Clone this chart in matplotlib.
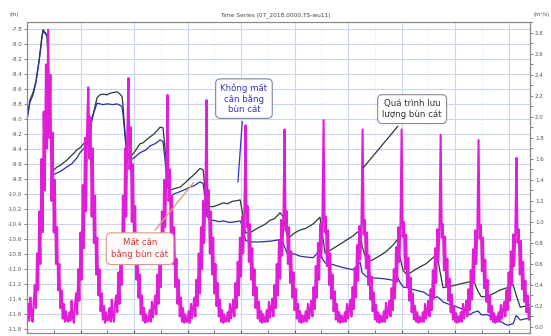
import numpy as np
import matplotlib
matplotlib.use("Agg")
import matplotlib.pyplot as plt
from matplotlib.ticker import MultipleLocator, FormatStrFormatter

# ---- bed level (m), two stations, time in hours ----
black_t = [0, 1.3, 2.7, 4.0, 5.5, 6.7, 7.2, 8.1, 9.0, 9.6, 10.3, 11.2,
           12, 13.5, 15, 16.5, 17.9, 19.5, 21, 22.4, 24, 26.0, 26.9, 28.3, 29.6, 31.4,
           32.7, 34.1, 35.9, 37, 38.6, 40.4, 41.7, 42.6, 43.1, 44.0, 44.9, 46.2,
           48, 50.7, 52, 53.5, 55.2, 57, 58.5, 59.7, 61.0, 61.9, 62.8, 64.2,
           66, 68.6, 71, 73.1, 75, 77.6, 79.0, 79.9, 80.7, 83.4, 85.5, 87.9,
           90, 92, 94, 95.6, 96.9, 98, 100.0, 102, 104.5, 107, 109.0, 111, 113.5,
           114.8, 116.6, 118, 120, 122.5, 125, 128.3, 131.4, 132.3, 133.7, 136,
           140.4, 143, 146.2, 149.4, 150.3, 152.5, 155, 158.4, 161, 164.2, 166.0,
           167.3, 168.7, 170.5, 173, 176.3, 179, 182.1, 183.9, 185.3, 186.6, 190,
           194.2, 198.7, 200.1, 202.3, 203.7, 206.4, 209, 212.2, 215.3, 218.0,
           219.4, 221.2, 224.3, 225.6]
black_z = [-9.01, -8.75, -8.65, -8.50, -8.20, -7.90, -7.81, -7.85, -7.88, -8.30, -9.00, -9.70,
           -9.68, -9.64, -9.62, -9.58, -9.55, -9.50, -9.46, -9.41, -9.38, -9.31, -9.28, -9.09, -8.95, -8.72,
           -8.68, -8.67, -8.68, -8.66, -8.65, -8.64, -8.67, -8.70, -8.84, -9.20, -9.45, -9.51,
           -9.45, -9.33, -9.32, -9.28, -9.24, -9.20, -9.15, -9.11, -9.12, -9.40, -9.64, -9.95,
           -9.93, -9.91, -9.85, -9.79, -9.74, -9.66, -9.68, -9.95, -10.17, -10.17, -10.15, -10.12,
           -10.13, -10.10, -10.09, -10.08, -10.30, -10.52, -10.52, -10.48, -10.44, -10.40, -10.35, -10.33, -10.25,
           -10.30, -10.55, -10.57, -10.52, -10.48, -10.46, -10.40, -10.31, -10.50, -10.79, -10.75,
           -10.67, -10.62, -10.56, -10.48, -10.70, -10.91, -10.88, -10.82, -10.77, -10.68, -10.61,
           -10.85, -11.02, -11.08, -11.03, -10.97, -10.93, -10.85, -10.81, -11.05, -11.25, -11.23,
           -11.20, -11.17, -11.15, -11.30, -11.37, -11.37, -11.33, -11.28, -11.25, -11.21,
           -11.35, -11.51, -11.49, -11.48]

blue_t = [0, 1.3, 2.7, 4.0, 5.5, 6.7, 7.2, 8.1, 9.0, 9.6, 10.3, 11.2,
          12, 13.5, 15, 17.9, 20, 22.4, 23.8, 26.0, 26.9, 28.3, 29.6, 31.4,
          32.7, 34.1, 36, 38.6, 40.4, 41.7, 42.6, 43.1, 44.0, 44.9, 46.2,
          48, 50.7, 53, 55.2, 57.5, 59.7, 61.0, 61.9, 62.8, 64.2,
          66, 68.6, 71, 73.1, 75, 77.6, 79.0, 79.9, 80.7, 82.1, 83.4, 86, 88,
          91, 93.5, 95.6, 96.9, 98, 100, 104.5, 109, 113.5, 114.8, 116.6, 120,
          122.5, 125, 128.3, 131.4, 132.3, 133.7, 137, 140.4, 143, 146.2, 149.4,
          150.3, 152.5, 156, 160, 164.2, 166.0, 167.3, 168.7, 170.5, 174, 178,
          182.1, 183.9, 185.3, 186.6, 190, 194.2, 198.7, 200.1, 202.3, 203.7,
          206.4, 210, 215.3, 218.0, 219.4, 221.2, 224.3, 225.6]
blue_z = [-9.01, -8.78, -8.68, -8.52, -8.22, -7.92, -7.83, -7.86, -7.90, -8.40, -9.10, -9.75,
          -9.74, -9.72, -9.70, -9.64, -9.60, -9.52, -9.45, -9.38, -9.32, -9.15, -8.95, -8.79,
          -8.80, -8.81, -8.80, -8.81, -8.80, -8.82, -8.84, -8.95, -9.25, -9.50, -9.55,
          -9.52, -9.45, -9.42, -9.36, -9.33, -9.28, -9.30, -9.55, -9.85, -10.04,
          -10.00, -9.97, -9.94, -9.91, -9.89, -9.84, -9.86, -10.08, -10.30, -10.35, -10.35, -10.37, -10.36,
          -10.38, -10.37, -10.36, -10.45, -10.62, -10.64, -10.64, -10.63, -10.61, -10.65, -10.79, -10.80,
          -10.83, -10.84, -10.85, -10.75, -10.85, -10.92, -10.94, -10.97, -10.99, -11.01, -10.91,
          -11.05, -11.11, -11.12, -11.13, -11.15, -11.10, -11.18, -11.24, -11.25, -11.28, -11.31,
          -11.39, -11.37, -11.40, -11.44, -11.48, -11.52, -11.61, -11.58, -11.56, -11.61,
          -11.61, -11.66, -11.75, -11.73, -11.62, -11.68, -11.66, -11.66]

# ---- sediment discharge (m3/s), half-hourly, one row per tide ----
q_start = [0.0, 18.5, 36.5, 54.5, 72.0, 89.5, 107.0, 124.5, 142.0, 159.5, 177.0, 194.5, 211.5]
q_rows = [
    [0.10, 0.22, 0.06, 0.28, 0.12, 0.05, 0.24, 0.40, 0.18, 0.70, 0.35, 1.10, 0.60, 1.60, 0.90, 2.05, 1.30, 2.50, 1.70,
     2.83, 1.80, 2.40, 1.20, 1.85, 0.90, 1.40, 0.60, 0.95, 0.35, 0.60, 0.18, 0.35, 0.08, 0.22, 0.05, 0.15, 0.06],
    [0.05, 0.14, 0.06, 0.25, 0.10, 0.04, 0.20, 0.32, 0.12, 0.55, 0.25, 0.90, 0.45, 1.35, 0.75, 1.80, 1.10, 1.95,
     2.28, 1.60, 2.00, 1.05, 1.70, 0.80, 1.25, 0.50, 0.85, 0.30, 0.55, 0.15, 0.32, 0.07, 0.20, 0.04, 0.14, 0.06],
    [0.08, 0.18, 0.05, 0.26, 0.10, 0.05, 0.22, 0.30, 0.14, 0.52, 0.22, 0.85, 0.40, 1.25, 0.70, 1.70, 1.05, 1.85,
     2.37, 1.50, 1.90, 1.00, 1.55, 0.75, 1.15, 0.45, 0.80, 0.28, 0.50, 0.12, 0.30, 0.06, 0.18, 0.04, 0.12, 0.05],
    [0.06, 0.16, 0.05, 0.24, 0.09, 0.20, 0.30, 0.12, 0.50, 0.22, 0.80, 0.38, 1.10, 0.60, 1.40, 0.95, 1.45,
     2.21, 1.20, 1.50, 0.80, 1.25, 0.60, 0.95, 0.38, 0.65, 0.22, 0.45, 0.10, 0.28, 0.05, 0.18, 0.04, 0.12, 0.05],
    [0.05, 0.15, 0.04, 0.22, 0.08, 0.18, 0.28, 0.10, 0.45, 0.20, 0.70, 0.32, 0.95, 0.55, 1.20, 0.80, 1.25,
     2.16, 1.05, 1.30, 0.70, 1.10, 0.50, 0.85, 0.32, 0.60, 0.20, 0.42, 0.10, 0.26, 0.05, 0.16, 0.04, 0.12, 0.05],
    [0.06, 0.14, 0.05, 0.22, 0.08, 0.16, 0.26, 0.10, 0.42, 0.18, 0.62, 0.30, 0.85, 0.48, 1.05, 0.70, 1.10,
     1.92, 0.95, 1.15, 0.62, 0.98, 0.45, 0.75, 0.30, 0.55, 0.18, 0.38, 0.08, 0.24, 0.05, 0.15, 0.04, 0.12, 0.05],
    [0.05, 0.16, 0.05, 0.24, 0.09, 0.17, 0.27, 0.10, 0.40, 0.18, 0.60, 0.30, 0.82, 0.46, 1.02, 0.68, 1.05,
     1.88, 0.92, 1.10, 0.60, 0.95, 0.42, 0.72, 0.28, 0.52, 0.16, 0.36, 0.08, 0.22, 0.05, 0.15, 0.04, 0.11, 0.05],
    [0.06, 0.15, 0.05, 0.22, 0.08, 0.16, 0.25, 0.10, 0.38, 0.17, 0.58, 0.28, 0.80, 0.45, 0.98, 0.66, 1.02,
     1.97, 0.90, 1.05, 0.58, 0.92, 0.40, 0.70, 0.27, 0.50, 0.15, 0.34, 0.07, 0.22, 0.05, 0.14, 0.04, 0.11, 0.05],
    [0.05, 0.14, 0.05, 0.22, 0.08, 0.17, 0.26, 0.10, 0.38, 0.17, 0.56, 0.28, 0.78, 0.44, 0.96, 0.64, 1.00,
     1.88, 0.88, 1.02, 0.56, 0.90, 0.40, 0.68, 0.26, 0.48, 0.15, 0.33, 0.07, 0.21, 0.05, 0.14, 0.04, 0.11, 0.05],
    [0.05, 0.15, 0.05, 0.23, 0.08, 0.16, 0.25, 0.10, 0.37, 0.16, 0.55, 0.27, 0.76, 0.43, 0.95, 0.62, 0.98,
     1.88, 0.86, 1.00, 0.55, 0.88, 0.38, 0.66, 0.25, 0.47, 0.14, 0.32, 0.07, 0.20, 0.05, 0.14, 0.04, 0.10, 0.05],
    [0.05, 0.14, 0.05, 0.22, 0.08, 0.16, 0.25, 0.10, 0.36, 0.16, 0.54, 0.27, 0.75, 0.42, 0.93, 0.62, 0.97,
     1.83, 0.85, 0.98, 0.54, 0.86, 0.38, 0.65, 0.25, 0.46, 0.14, 0.31, 0.07, 0.20, 0.05, 0.13, 0.04, 0.10, 0.05],
    [0.14, 0.05, 0.22, 0.08, 0.16, 0.25, 0.10, 0.36, 0.16, 0.54, 0.26, 0.74, 0.42, 0.92, 0.60, 0.96,
     1.78, 0.84, 0.97, 0.53, 0.85, 0.37, 0.64, 0.24, 0.45, 0.14, 0.30, 0.07, 0.20, 0.05, 0.13, 0.04, 0.10, 0.05],
    [0.14, 0.05, 0.21, 0.08, 0.16, 0.24, 0.10, 0.35, 0.16, 0.52, 0.25, 0.72, 0.40, 0.88, 0.58, 0.92,
     1.61, 0.80, 0.93, 0.50, 0.82, 0.36, 0.62, 0.24, 0.44, 0.14, 0.30, 0.07, 0.18, 0.05],
]

q_t = []
q_v = []
for t0, row in zip(q_start, q_rows):
    for i, v in enumerate(row):
        q_t.append(t0 + 0.5 * i)
        q_v.append(v)

left_ticks = np.arange(-11.8, -7.79, 0.2)
right_ticks = np.arange(0.0, 2.81, 0.2)

fig = plt.figure(figsize=(5.51, 3.36), dpi=100)
ax = fig.add_axes([0.049, 0.009, 0.913, 0.926])
ax2 = ax.twinx()

ax.set_xlim(0, 225.6)
ax.set_ylim(-11.853, -7.707)
ax2.set_ylim(-0.057, 2.905)

# grid
ax.xaxis.set_major_locator(MultipleLocator(24))
ax.xaxis.set_minor_locator(MultipleLocator(12))
ax.set_yticks(left_ticks)
ax.yaxis.set_major_formatter(FormatStrFormatter('%.1f'))
ax.grid(which='major', color='#c9d6ee', lw=0.8)
ax.grid(which='minor', axis='x', color='#dde4f2', lw=0.5, ls=(0, (3, 3)))
ax.set_axisbelow(True)

ax.plot(black_t, black_z, color='#2e3a2e', lw=0.9, zorder=3)
ax.plot(blue_t, blue_z, color='#2b2f9e', lw=0.9, zorder=3)
ax2.plot(q_t, q_v, color='#e01ed8', lw=1.5, zorder=2)

ax2.set_yticks(right_ticks)
ax2.yaxis.set_minor_locator(MultipleLocator(0.1))
ax2.yaxis.set_major_formatter(FormatStrFormatter('%.1f'))

for a in (ax, ax2):
    for s in a.spines.values():
        s.set_color('#8a8a8a')
        s.set_linewidth(0.8)
ax.tick_params(axis='y', labelsize=4, colors='#555555', length=2, width=0.5, pad=1.5)
ax2.tick_params(axis='y', which='both', labelsize=4, colors='#555555', length=2, width=0.5, pad=1.5)
ax.tick_params(axis='x', which='both', direction='in', length=2, labelbottom=False, colors='#555555')

fig.text(0.5, 0.955, 'Time Series (07_2018.0000.TS-wu11)', ha='center', va='center',
         fontsize=4.2, color='#444444')
fig.text(0.025, 0.958, '(m)', ha='center', va='center', fontsize=3.8, color='#444444')
fig.text(0.982, 0.958, '(m\u00b3/s)', ha='center', va='center', fontsize=3.8, color='#444444')

# callouts
ax2.annotate('Không mất\ncân bằng\nbùn cát', xy=(94.5, -9.88), xycoords=ax.transData,
             xytext=(97.3, -8.73), textcoords=ax.transData, ha='center', va='center',
             fontsize=6.2, color='#3434c8', linespacing=1.1, zorder=10,
             bbox=dict(boxstyle='round,pad=0.55', fc='white', ec='#7a86a8', lw=0.8),
             arrowprops=dict(arrowstyle='-', color='#3434c8', lw=0.9))
ax2.annotate('Quá trình lưu\nlượng bùn cát', xy=(150, -9.68), xycoords=ax.transData,
             xytext=(172.7, -8.87), textcoords=ax.transData, ha='center', va='center',
             fontsize=6.2, color='#333333', linespacing=1.2, zorder=10,
             bbox=dict(boxstyle='round,pad=0.55', fc='white', ec='#8a8a8a', lw=0.8),
             arrowprops=dict(arrowstyle='-', color='#333333', lw=0.9))
ax2.annotate('Mất cân\nbằng bùn cát', xy=(75.5, -9.82), xycoords=ax.transData,
             xytext=(50.7, -10.73), textcoords=ax.transData, ha='center', va='center',
             fontsize=6.2, color='#e03030', linespacing=1.3, zorder=10,
             bbox=dict(boxstyle='round,pad=0.6', fc='#fffafa', ec='#d99a8a', lw=0.8),
             arrowprops=dict(arrowstyle='-', color='#e0a070', lw=1.0))

fig.savefig('out.png', dpi=100)
